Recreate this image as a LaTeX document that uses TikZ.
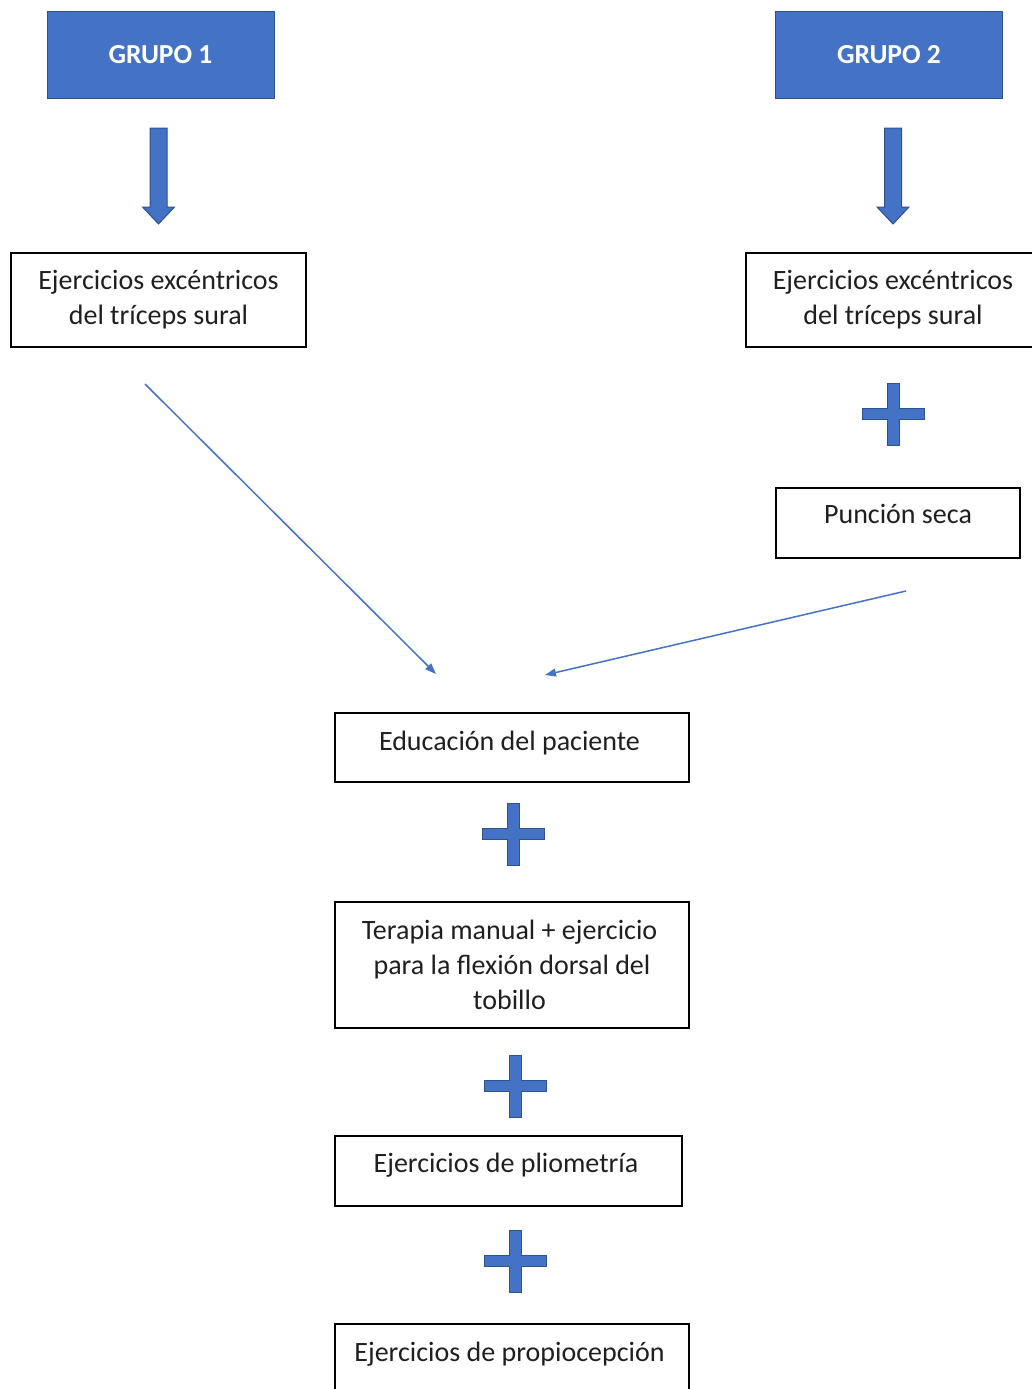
\documentclass[tikz,border=0pt]{standalone}
\usepackage{fontspec}
\setmainfont{Carlito}
\usetikzlibrary{arrows.meta,calc}
\definecolor{blu}{HTML}{4472C4}
\definecolor{bord}{HTML}{2F528F}
\newcommand\fatarrow[2]{%
  \path[fatst] let \p1=(#1), \p2=(#2) in
    (\x1-8.5pt,\y1) -- (\x1+8.5pt,\y1) -- (\x1+8.5pt,\y2+17pt) -- (\x1+16pt,\y2+17pt)
    -- (\x1,\y2) -- (\x1-16pt,\y2+17pt) -- (\x1-8.5pt,\y2+17pt) -- cycle;}
\newcommand\plussign[1]{%
  \draw[plusst] (#1) ++(-31,-5.75) -- ++(25.25,0) -- ++(0,-25.25) -- ++(11.5,0)
    -- ++(0,25.25) -- ++(25.25,0) -- ++(0,11.5) -- ++(-25.25,0) -- ++(0,25.25)
    -- ++(-11.5,0) -- ++(0,-25.25) -- ++(-25.25,0) -- cycle;}
\begin{document}
\begin{tikzpicture}[x=1pt,y=-1pt,
  grp/.style={draw=bord, fill=blu, line width=1pt, text=white,
    font=\fontsize{27.5}{30}\selectfont\bfseries, minimum width=227pt,
    minimum height=86pt, inner sep=0pt},
  box/.style={draw, line width=1.8pt, align=center, inner sep=0pt,
    font=\fontsize{28}{35}\selectfont, text=black!88},
  tbox/.style={box, anchor=north, inner ysep=0pt},
  fatst/.style={draw=bord, fill=blu, line width=1pt},
  plusst/.style={draw=bord, fill=blu, line width=1pt},
  thin/.style={draw=blu, line width=1.5pt, -{Triangle[length=11pt,width=8pt]}}]
\useasboundingbox (0,0) rectangle (1032,1389);
\clip (0,0) rectangle (1032,1389);

% group headers
\node[grp] (g1) at (160.5,55) {GRUPO 1};
\node[grp] (g2) at (889,55) {GRUPO 2};

% first-level boxes
\node[box, minimum width=295pt, minimum height=94pt] (e1) at (158.5,300)
  {Ejercicios excéntricos\\del tríceps sural};
\node[box, minimum width=294pt, minimum height=94pt] (e2) at (893,300)
  {Ejercicios excéntricos\\del tríceps sural};

% fat arrows
\coordinate (a1s) at (158.5,128); \coordinate (a1e) at (158.5,224);
\coordinate (a2s) at (893,128);   \coordinate (a2e) at (893,224);
\fatarrow{a1s}{a1e}
\fatarrow{a2s}{a2e}

% plus and Puncion seca
\coordinate (p1) at (893.5,414);
\plussign{p1}
\node[tbox, minimum width=244pt, text height=36pt, text depth=34pt] (ps) at (898,487) {Punción seca};

% bottom chain
\node[tbox, minimum width=354pt, text height=38pt, text depth=31pt] (ed) at (512,712) {Educación del paciente\hspace*{5pt}};
\coordinate (p2) at (513.5,834);
\plussign{p2}
\node[box, minimum width=354pt, minimum height=126pt] (tm) at (512,965)
  {Terapia manual + ejercicio\hspace*{5pt}\\para la flexión dorsal del\hspace*{5pt}\\tobillo\hspace*{5pt}};
\coordinate (p3) at (515.5,1086);
\plussign{p3}
\node[tbox, minimum width=347pt, text height=37pt, text depth=33pt] (pl) at (508.5,1135) {Ejercicios de pliometría\hspace*{5pt}};
\coordinate (p4) at (515.5,1261);
\plussign{p4}
\node[tbox, minimum width=354pt, text height=38pt, text depth=32pt] (pr) at (512,1323) {Ejercicios de propiocepción\hspace*{5pt}};

% thin arrows
\coordinate (t1s) at (145,384); \coordinate (t1e) at (436,674);
\coordinate (t2s) at (906,591); \coordinate (t2e) at (545,675);
\draw[thin] (t1s) -- (t1e);
\draw[thin] (t2s) -- (t2e);
\end{tikzpicture}
\end{document}
